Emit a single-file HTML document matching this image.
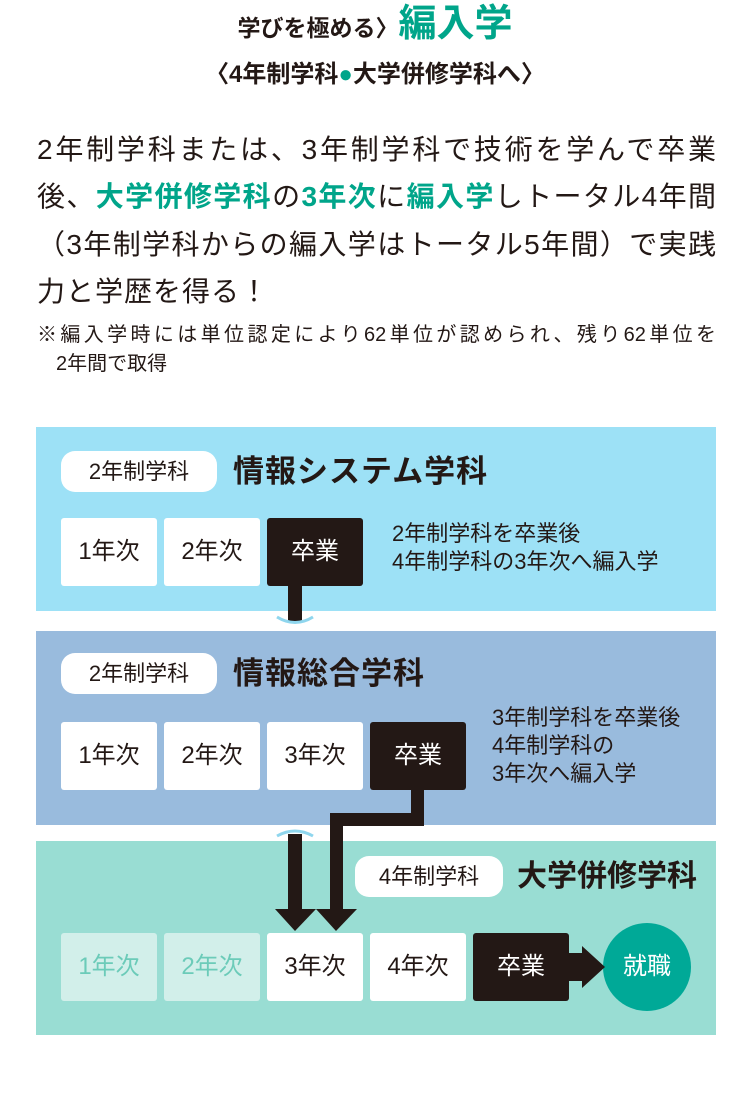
<!DOCTYPE html>
<html><head><meta charset="utf-8"><style>
*{margin:0;padding:0;box-sizing:border-box}
body{width:750px;height:1096px;background:#fff;position:relative;font-family:"Liberation Sans","Noto Sans CJK JP",sans-serif;color:#231815;overflow:hidden}
.a{position:absolute}
.j{position:absolute;left:37px;width:679px;text-align:justify;text-align-last:justify;font-size:28px;white-space:nowrap;line-height:1}
.g{color:#00a58a;font-weight:bold}
.panel{position:absolute;left:36px;width:680px}
.pill{position:absolute;background:#fff;border-radius:14px;font-size:22px;text-align:center;line-height:41px;height:41px}
.ttl{position:absolute;font-size:31px;font-weight:bold;line-height:41px;letter-spacing:1px}
.box{position:absolute;width:96px;height:68px;background:#fff;border-radius:3px;font-size:24px;text-align:center;line-height:68px}
.blk{background:#231815;color:#fff}
.fd{background:#d2efea;color:#6ccbb9}
.note{position:absolute;font-size:22px;line-height:28px}
</style></head><body>
<div class="a" style="left:0;width:750px;top:0px;text-align:center;white-space:nowrap;line-height:48px">
<span style="font-size:23px;font-weight:bold">学びを極める〉</span><span style="font-size:38px" class="g">編入学</span></div>
<div class="a" style="left:0;width:750px;top:59px;text-align:center;font-size:24px;font-weight:bold;line-height:32px">〈4年制学科<span style="color:#00a58a">●</span>大学併修学科へ〉</div>
<div class="j" style="top:136px">2年制学科または、3年制学科で技術を学んで卒業</div>
<div class="j" style="top:183px">後、<span class="g">大学併修学科</span>の<span class="g">3年次</span>に<span class="g">編入学</span>しトータル4年間</div>
<div class="j" style="top:231px">（3年制学科からの編入学はトータル5年間）で実践</div>
<div class="a" style="left:37px;top:278px;font-size:28px;line-height:1;letter-spacing:1px">力と学歴を得る！</div>
<div class="a" style="left:37px;top:325px;width:679px;font-size:20px;line-height:1;text-align:justify;text-align-last:justify;white-space:nowrap">※編入学時には単位認定により62単位が認められ、残り62単位を</div>
<div class="a" style="left:56px;top:354px;font-size:20px;line-height:1">2年間で取得</div>

<div class="panel" style="top:427px;height:184px;background:#9de1f6"></div>
<div class="panel" style="top:631px;height:194px;background:#99bbdd"></div>
<div class="panel" style="top:841px;height:194px;background:#99ddd3"></div>

<div class="pill" style="left:61px;top:451px;width:156px">2年制学科</div>
<div class="ttl" style="left:233px;top:451px">情報システム学科</div>
<div class="box" style="left:61px;top:518px">1年次</div>
<div class="box" style="left:164px;top:518px">2年次</div>
<div class="box blk" style="left:267px;top:518px">卒業</div>
<div class="note" style="left:392px;top:520px">2年制学科を卒業後<br>4年制学科の3年次へ編入学</div>

<div class="pill" style="left:61px;top:653px;width:156px">2年制学科</div>
<div class="ttl" style="left:233px;top:653px">情報総合学科</div>
<div class="box" style="left:61px;top:722px">1年次</div>
<div class="box" style="left:164px;top:722px">2年次</div>
<div class="box" style="left:267px;top:722px">3年次</div>
<div class="box blk" style="left:370px;top:722px">卒業</div>
<div class="note" style="left:492px;top:704px">3年制学科を卒業後<br>4年制学科の<br>3年次へ編入学</div>

<div class="pill" style="left:355px;top:856px;width:148px">4年制学科</div>
<div class="ttl" style="left:517px;top:856px;font-size:30px;letter-spacing:0">大学併修学科</div>
<div class="box fd" style="left:61px;top:933px">1年次</div>
<div class="box fd" style="left:164px;top:933px">2年次</div>
<div class="box" style="left:267px;top:933px">3年次</div>
<div class="box" style="left:370px;top:933px">4年次</div>
<div class="box blk" style="left:473px;top:933px">卒業</div>
<div class="a" style="left:603px;top:923px;width:88px;height:88px;border-radius:50%;background:#00a997;color:#fff;font-size:24px;text-align:center;line-height:88px">就職</div>

<svg class="a" style="left:0;top:0" width="750" height="1096">
<g fill="#231815">
<rect x="288" y="586" width="14" height="36"/>
<rect x="411" y="790" width="13" height="36"/>
<rect x="330" y="813" width="94" height="13"/>
<rect x="330" y="813" width="13" height="100"/>
<polygon points="316,909 357,909 336,931"/>
<rect x="288" y="834" width="14" height="79"/>
<polygon points="275,909 316,909 295,931"/>
<rect x="569" y="953" width="14" height="28"/>
<polygon points="582,946 605,967 582,988"/>
</g>
<g fill="none" stroke="#8fd6ee" stroke-width="3">
<path d="M277,617 Q295,628 313,617"/>
<path d="M277,836 Q295,826 313,836"/>
</g>
</svg>
</body></html>
